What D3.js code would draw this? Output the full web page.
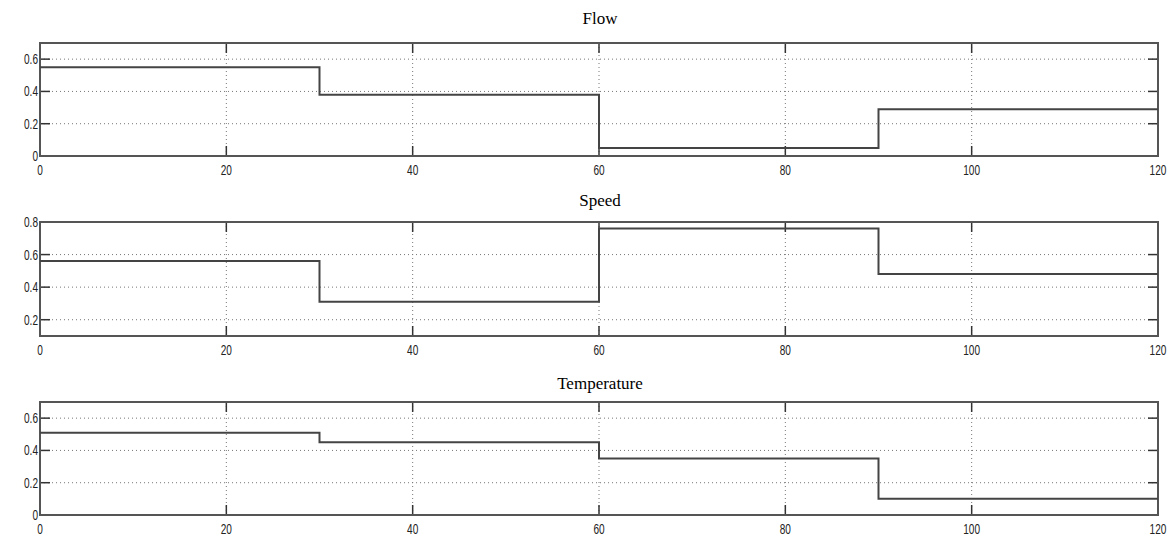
<!DOCTYPE html>
<html><head><meta charset="utf-8">
<script src="https://cdn.jsdelivr.net/npm/d3@7"></script>
<style>body{margin:0;background:#fff}</style>
</head><body>
<svg id="c" width="1173" height="536"></svg>
<script>
const titles = ["Flow", "Speed", "Temperature"];
const stepTimes = [0, 30, 60, 90, 120];
const flowValues = [0.55, 0.38, 0.05, 0.29];
const speedValues = [0.56, 0.31, 0.76, 0.48];
const temperatureValues = [0.51, 0.45, 0.35, 0.10];
const xTicks = [0, 20, 40, 60, 80, 100, 120];
const yDomains = [[0, 0.7], [0.1, 0.8], [0, 0.7]];
const yTicks = [[0, 0.2, 0.4, 0.6], [0.2, 0.4, 0.6, 0.8], [0, 0.2, 0.4, 0.6]];
const series = [flowValues, speedValues, temperatureValues];

const svg = d3.select("#c");
const left = 40, right = 1158;
const panels = [{top: 43, bottom: 156, title: 24}, {top: 222, bottom: 336, title: 206}, {top: 402, bottom: 515, title: 389}];
const x = d3.scaleLinear().domain([0, 120]).range([left, right]);
const labelFont = "'Liberation Sans', Arial, sans-serif";

panels.forEach((p, i) => {
  const y = d3.scaleLinear().domain(yDomains[i]).range([p.bottom, p.top]);
  const g = svg.append("g");
  // grid
  g.selectAll(".hg").data(yTicks[i].filter(v => v > yDomains[i][0] && v < yDomains[i][1])).enter().append("line")
    .attr("x1", left).attr("x2", right).attr("y1", d => y(d)).attr("y2", d => y(d))
    .attr("stroke", "#777").attr("stroke-width", 1).attr("stroke-dasharray", "1,3");
  g.selectAll(".vg").data(xTicks.filter(v => v > 0 && v < 120)).enter().append("line")
    .attr("x1", d => x(d)).attr("x2", d => x(d)).attr("y1", p.top).attr("y2", p.bottom)
    .attr("stroke", "#777").attr("stroke-width", 1).attr("stroke-dasharray", "1,3");
  // ticks inside
  const tl = 10;
  xTicks.forEach(v => {
    g.append("line").attr("x1", x(v)).attr("x2", x(v)).attr("y1", p.bottom).attr("y2", p.bottom - tl).attr("stroke", "#333").attr("stroke-width", 1.5);
    g.append("line").attr("x1", x(v)).attr("x2", x(v)).attr("y1", p.top).attr("y2", p.top + tl).attr("stroke", "#333").attr("stroke-width", 1.5);
  });
  yTicks[i].forEach(v => {
    g.append("line").attr("x1", left).attr("x2", left + tl).attr("y1", y(v)).attr("y2", y(v)).attr("stroke", "#333").attr("stroke-width", 1.5);
    g.append("line").attr("x1", right).attr("x2", right - tl).attr("y1", y(v)).attr("y2", y(v)).attr("stroke", "#333").attr("stroke-width", 1.5);
  });
  // frame
  g.append("rect").attr("x", left).attr("y", p.top).attr("width", right - left).attr("height", p.bottom - p.top)
    .attr("fill", "none").attr("stroke", "#555").attr("stroke-width", 2);
  // step line
  const pts = series[i].map((v, k) => ({t: stepTimes[k], v}));
  pts.push({t: stepTimes[stepTimes.length - 1], v: series[i][series[i].length - 1]});
  const line = d3.line().x(d => x(d.t)).y(d => y(d.v)).curve(d3.curveStepAfter);
  g.append("path").attr("d", line(pts)).attr("fill", "none").attr("stroke", "#444").attr("stroke-width", 2);
  // tick labels (condensed)
  g.selectAll(".xl").data(xTicks).enter().append("text")
    .attr("transform", d => `translate(${x(d)},${p.bottom + 19}) scale(0.72,1)`).attr("text-anchor", "middle")
    .attr("font-family", labelFont).attr("font-size", 14)
    .attr("fill", "#222").text(d => d);
  g.selectAll(".yl").data(yTicks[i]).enter().append("text")
    .attr("transform", d => `translate(${left - 2},${y(d) + 5}) scale(0.72,1)`).attr("text-anchor", "end")
    .attr("font-family", labelFont).attr("font-size", 14)
    .attr("fill", "#222").text(d => d3.format("")(d));
  // title
  g.append("text").attr("x", 600).attr("y", p.title).attr("text-anchor", "middle")
    .attr("font-family", "'Liberation Serif', 'DejaVu Serif', serif").attr("font-size", 17)
    .attr("fill", "#000").text(titles[i]);
});
</script>
</body></html>
